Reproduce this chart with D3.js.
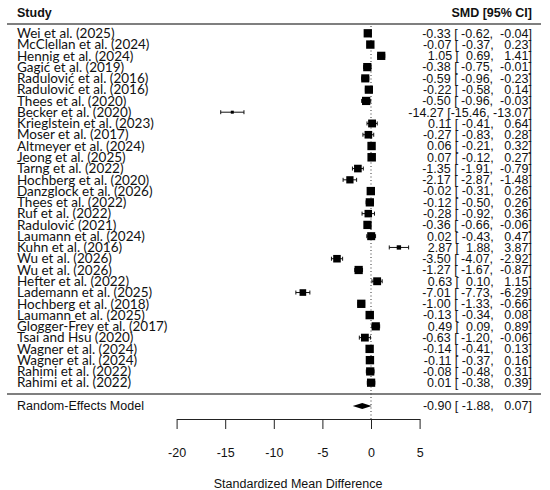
<!DOCTYPE html>
<html>
<head>
<meta charset="utf-8">
<script src="https://cdn.jsdelivr.net/npm/d3@7"></script>
<style>
  body { margin: 0; background: #fff; }
  svg { display: block; }
  .study { font-family: Lato, sans-serif; font-size: 13.5px; fill: #111; }
  .val { font-family: "Liberation Sans", Arial, sans-serif; font-size: 12.5px; fill: #111; white-space: pre; }
  .hdr { font-family: "Liberation Sans", Arial, sans-serif; font-size: 12.5px; font-weight: bold; fill: #111; }
  .axis text { font-family: "Liberation Sans", Arial, sans-serif; font-size: 12.5px; fill: #111; }
  .axis path, .axis line { stroke: #222; }
</style>
</head>
<body>
<svg id="chart" width="550" height="490"></svg>
<script>
// Forest plot: standardized mean differences with 95% CI

const studies = [
  'Wei et al. (2025)', 'McClellan et al. (2024)', 'Hennig et al. (2024)', 'Gagić et al. (2019)',
  'Radulović et al. (2016)', 'Radulović et al. (2016)', 'Thees et al. (2020)', 'Becker et al. (2020)',
  'Krieglstein et al. (2023)', 'Moser et al. (2017)', 'Altmeyer et al. (2024)', 'Jeong et al. (2025)',
  'Tarng et al. (2022)', 'Hochberg et al. (2020)', 'Danzglock et al. (2026)', 'Thees et al. (2022)',
  'Ruf et al. (2022)', 'Radulović (2021)', 'Laumann et al. (2024)', 'Kuhn et al. (2016)',
  'Wu et al. (2026)', 'Wu et al. (2026)', 'Hefter et al. (2022)', 'Lademann et al. (2025)',
  'Hochberg et al. (2018)', 'Laumann et al. (2025)', 'Glogger-Frey et al. (2017)', 'Tsai and Hsu (2020)',
  'Wagner et al. (2024)', 'Wagner et al. (2024)', 'Rahimi et al. (2022)', 'Rahimi et al. (2022)'
]
const smd = [-0.33, -0.07, 1.05, -0.38, -0.59, -0.22, -0.50, -14.27, 0.11, -0.27, 0.06, 0.07, -1.35, -2.17, -0.02, -0.12,
  -0.28, -0.36, 0.02, 2.87, -3.50, -1.27, 0.63, -7.01, -1.00, -0.13, 0.49, -0.63, -0.14, -0.11, -0.08, 0.01]
const ciLower = [-0.62, -0.37, 0.69, -0.75, -0.96, -0.58, -0.96, -15.46, -0.41, -0.83, -0.21, -0.12, -1.91, -2.87, -0.31, -0.50,
  -0.92, -0.66, -0.43, 1.88, -4.07, -1.67, 0.10, -7.73, -1.33, -0.34, 0.09, -1.20, -0.41, -0.37, -0.48, -0.38]
const ciUpper = [-0.04, 0.23, 1.41, -0.01, -0.23, 0.14, -0.03, -13.07, 0.64, 0.28, 0.32, 0.27, -0.79, -1.48, 0.26, 0.26,
  0.36, -0.06, 0.47, 3.87, -2.92, -0.87, 1.15, -6.29, -0.66, 0.08, 0.89, -0.06, 0.13, 0.16, 0.31, 0.39]
// approximate random-effects weights (%)
const weights = [3.25, 3.26, 3.24, 3.24, 3.22, 3.24, 3.24, 2.40, 3.18, 3.14, 3.26, 3.28, 3.14, 3.08, 3.26, 3.24,
  3.12, 3.25, 3.20, 2.62, 3.13, 3.24, 3.18, 2.98, 3.25, 3.27, 3.23, 3.17, 3.26, 3.26, 3.24, 3.24]
const pooled = { label: 'Random-Effects Model', est: -0.90, lo: -1.88, hi: 0.07 }
const xTicks = [-20, -15, -10, -5, 0, 5]

const rows = studies.map((s, i) => ({ name: s, est: smd[i], lo: ciLower[i], hi: ciUpper[i], w: weights[i] }))

const svg = d3.select('#chart')

const x = d3.scaleLinear().domain([-20, 5]).range([176.6, 419.6])
const y = d3.scaleLinear().domain([0, rows.length - 1]).range([33.3, 382.7])
const boxSize = d3.scaleLinear().domain(d3.extent(weights)).range([3, 8.5])

const fmt = d3.format('.2f')
const pad = v => { const s = fmt(v).replace('−', '-'); return ' '.repeat(Math.max(0, 6 - s.length)) + s }
const ciText = d => fmt(d.est).replace('−', '-') + ' [' + pad(d.lo) + ', ' + pad(d.hi) + ']'

// headers and separators
svg.append('text').attr('class', 'hdr').attr('x', 17).attr('y', 17).text('Study')
svg.append('text').attr('class', 'hdr').attr('x', 532).attr('y', 17).attr('text-anchor', 'end').text('SMD [95% CI]')
svg.append('line').attr('x1', 7).attr('x2', 541).attr('y1', 24).attr('y2', 24)
  .attr('stroke', '#555').attr('stroke-width', 1.6)
svg.append('line').attr('x1', 7).attr('x2', 541).attr('y1', 394).attr('y2', 394)
  .attr('stroke', '#555').attr('stroke-width', 1.6)

// reference line at zero
svg.append('line').attr('x1', x(0)).attr('x2', x(0)).attr('y1', 26).attr('y2', 419)
  .attr('stroke', '#333').attr('stroke-dasharray', '1,2.5')

// study rows
const row = svg.selectAll('.row').data(rows).join('g').attr('class', 'row')
  .attr('transform', (d, i) => 'translate(0,' + y(i) + ')')

row.append('text').attr('class', 'study').attr('x', 17).attr('dy', '0.35em').text(d => d.name)

row.append('line').attr('x1', d => x(d.lo)).attr('x2', d => x(d.hi))
  .attr('stroke', '#111').attr('stroke-width', 1)
row.selectAll('.cap').data(d => [d.lo, d.hi]).join('line').attr('class', 'cap')
  .attr('x1', v => x(v)).attr('x2', v => x(v)).attr('y1', -2).attr('y2', 2)
  .attr('stroke', '#111').attr('stroke-width', 1)
row.append('rect')
  .attr('x', d => x(d.est) - boxSize(d.w) / 2).attr('y', d => -boxSize(d.w) / 2)
  .attr('width', d => boxSize(d.w)).attr('height', d => boxSize(d.w))
  .attr('fill', '#000')

row.append('text').attr('class', 'val').attr('x', 532).attr('dy', '0.35em')
  .attr('text-anchor', 'end').text(ciText)

// pooled estimate
const reY = 406
svg.append('text').attr('class', 'val').attr('x', 17).attr('y', reY).attr('dy', '0.35em')
  .text(pooled.label)
svg.append('polygon')
  .attr('points', [[x(pooled.lo), reY], [x(pooled.est), reY - 3], [x(pooled.hi), reY], [x(pooled.est), reY + 3]].join(' '))
  .attr('fill', '#000')
svg.append('text').attr('class', 'val').attr('x', 532).attr('y', reY).attr('dy', '0.35em')
  .attr('text-anchor', 'end').text(ciText(pooled))

// x axis
const axis = d3.axisBottom(x).tickValues(xTicks).tickSize(10).tickPadding(19).tickSizeOuter(0)
  .tickFormat(d => String(d))
svg.append('g').attr('class', 'axis').attr('transform', 'translate(0,419)').call(axis)

svg.append('text').attr('class', 'val').attr('x', x(-7.5)).attr('y', 484).attr('dy', '0.35em')
  .attr('text-anchor', 'middle').text('Standardized Mean Difference')
</script>
</body>
</html>
